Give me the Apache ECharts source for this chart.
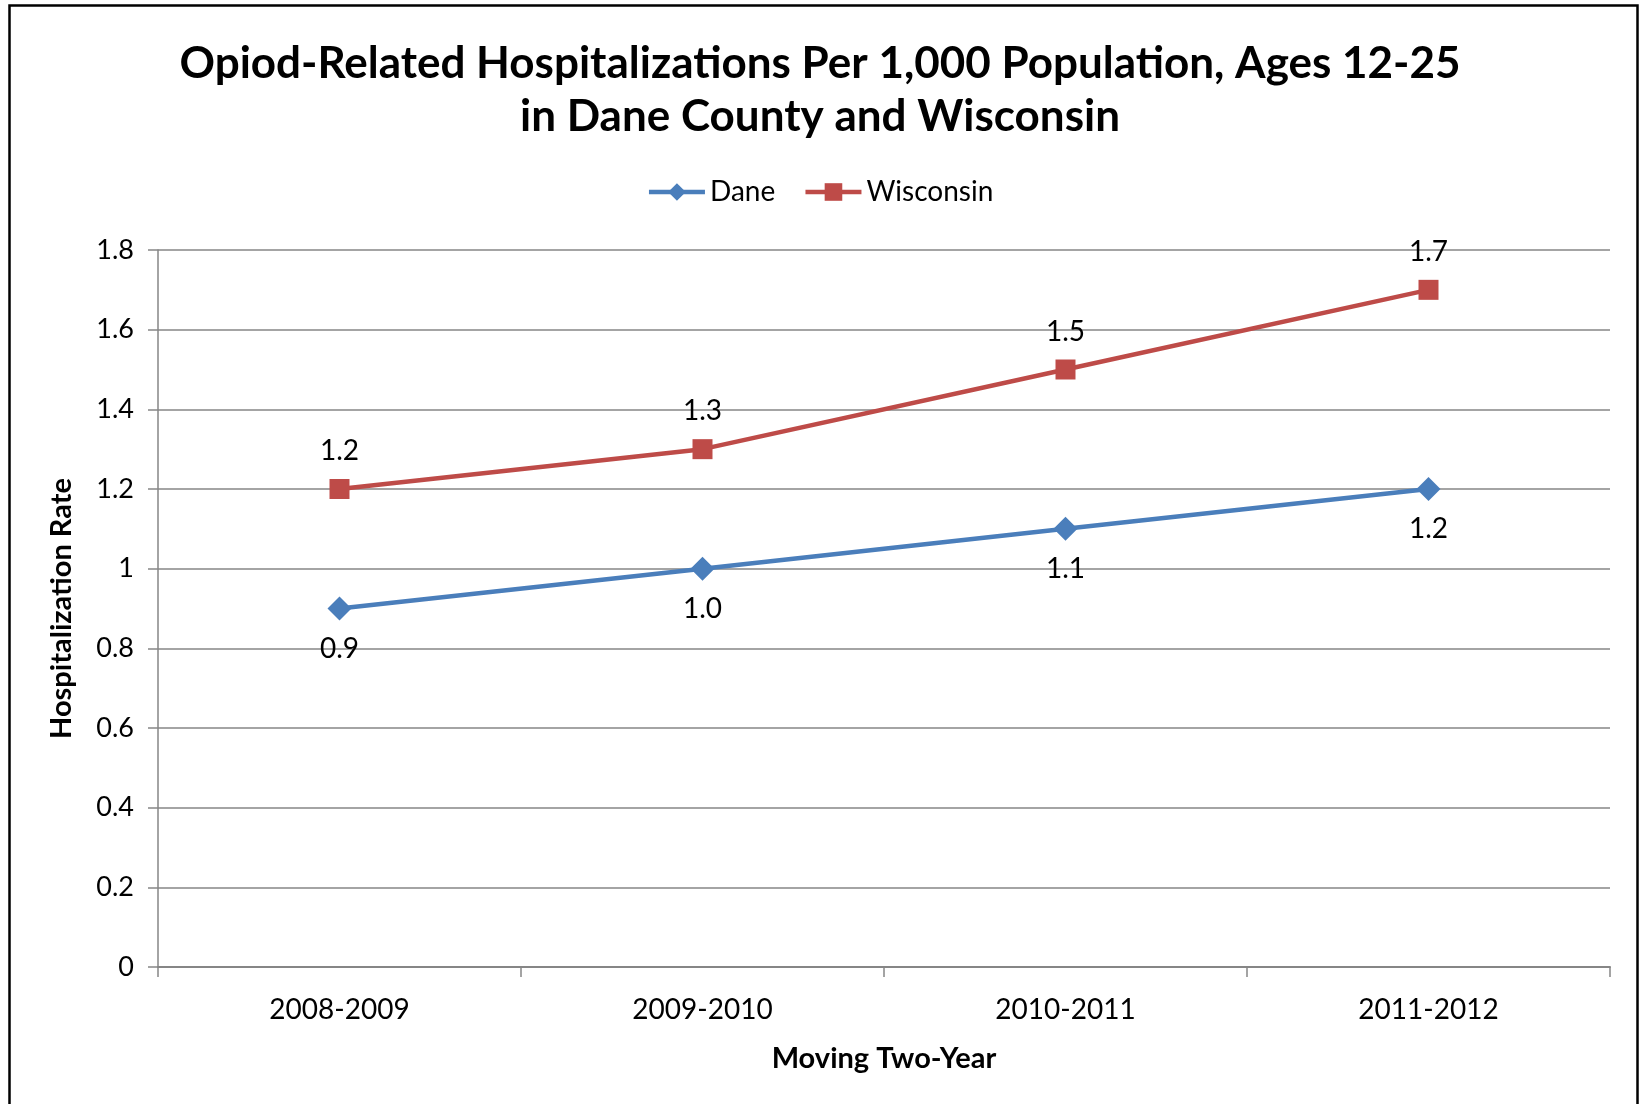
<!DOCTYPE html>
<html><head><meta charset="utf-8">
<script src="https://cdn.jsdelivr.net/npm/echarts@6/dist/echarts.min.js"></script>
<style>html,body{margin:0;padding:0;background:#fff}#c{width:1640px;height:1104px}</style>
</head><body><div id="c"></div>
<script>
const categories = ['2008-2009', '2009-2010', '2010-2011', '2011-2012'];
const dane = [0.9, 1.0, 1.1, 1.2];
const wisconsin = [1.2, 1.3, 1.5, 1.7];
const yTicks = [0, 0.2, 0.4, 0.6, 0.8, 1, 1.2, 1.4, 1.6, 1.8];

const FONT = 'Lato, "Open Sans", sans-serif';
const chart = echarts.init(document.getElementById('c'));
chart.setOption({
  backgroundColor: '#fff',
  animation: false,
  graphic: [{
    type: 'rect', left: 7, top: 3,
    shape: { width: 1628, height: 1120 },
    style: { fill: 'none', stroke: '#000', lineWidth: 2.5 }
  }],
  title: {
    text: 'Opiod-Related Hospitalizations Per 1,000 Population, Ages 12-25\nin Dane County and Wisconsin',
    left: 'center', top: 32,
    textStyle: { fontFamily: FONT, fontWeight: 'bold', fontSize: 44, lineHeight: 53, color: '#000' }
  },
  legend: {
    top: 173, left: 'center',
    itemWidth: 56, itemHeight: 22, itemGap: 28,
    lineStyle: { width: 4.5 },
    textStyle: { fontFamily: FONT, fontSize: 28, color: '#000' },
    data: ['Dane', 'Wisconsin']
  },
  grid: { left: 158, right: 30, top: 250, bottom: 137 },
  xAxis: {
    type: 'category', data: categories, boundaryGap: true,
    name: 'Moving Two-Year', nameLocation: 'middle', nameGap: 77,
    nameTextStyle: { fontFamily: FONT, fontWeight: 'bold', fontSize: 29, color: '#000' },
    axisLine: { lineStyle: { color: '#868686', width: 2 } },
    axisTick: { show: true, length: 10, lineStyle: { color: '#868686', width: 1.5 } },
    axisLabel: { fontFamily: FONT, fontSize: 28, color: '#000', margin: 29 }
  },
  yAxis: {
    type: 'value', min: 0, max: 1.8, interval: 0.2,
    name: 'Hospitalization Rate', nameLocation: 'middle', nameGap: 82, nameRotate: 90,
    nameTextStyle: { fontFamily: FONT, fontWeight: 'bold', fontSize: 29, color: '#000' },
    axisLine: { show: true, lineStyle: { color: '#868686', width: 1.5 } },
    axisTick: { show: true, length: 10, lineStyle: { color: '#868686', width: 1.5 } },
    splitLine: { lineStyle: { color: '#868686', width: 1.5 } },
    axisLabel: {
      fontFamily: FONT, fontSize: 27, color: '#000', margin: 24,
      formatter: v => { const t = yTicks.find(x => Math.abs(x - v) < 1e-9); return String(t !== undefined ? t : v); }
    }
  },
  series: [
    {
      name: 'Dane', type: 'line', data: dane,
      symbol: 'diamond', symbolSize: 24,
      itemStyle: { color: '#4A7EBB' },
      lineStyle: { color: '#4A7EBB', width: 4.5 },
      label: { show: true, position: 'bottom', distance: 14, fontFamily: FONT, fontSize: 28, color: '#000',
        formatter: p => p.value.toFixed(1) }
    },
    {
      name: 'Wisconsin', type: 'line', data: wisconsin,
      symbol: 'rect', symbolSize: 20,
      itemStyle: { color: '#BE4B48' },
      lineStyle: { color: '#BE4B48', width: 4.5 },
      label: { show: true, position: 'top', distance: 14, fontFamily: FONT, fontSize: 28, color: '#000',
        formatter: p => p.value.toFixed(1) }
    }
  ]
});
</script></body></html>
